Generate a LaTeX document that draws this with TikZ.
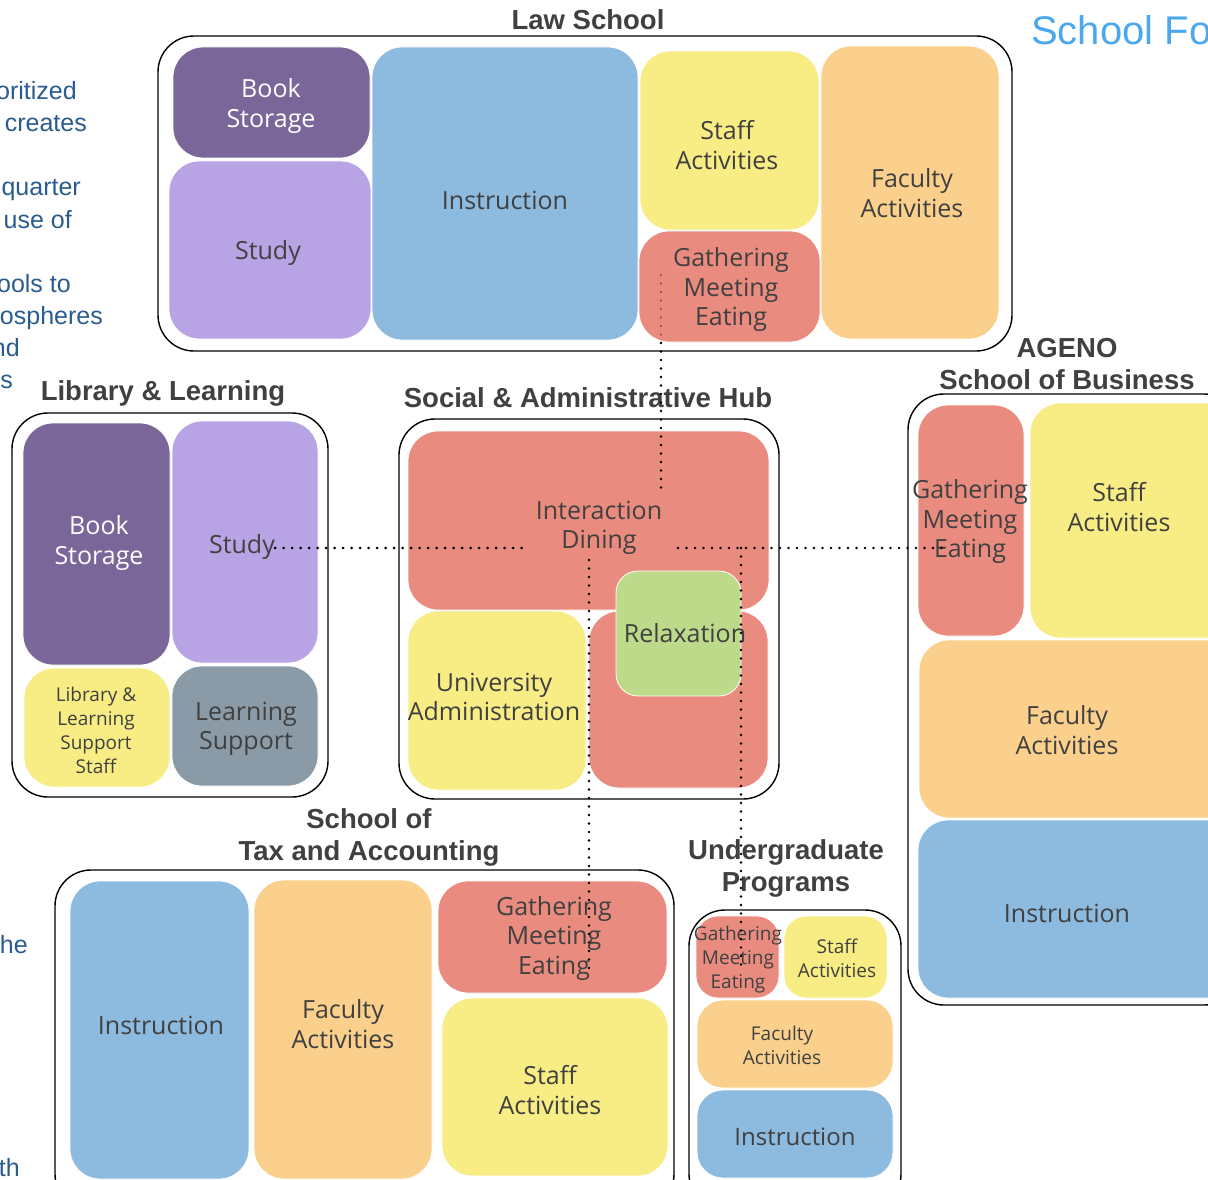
\documentclass[tikz,border=0pt]{standalone}
\usepackage{fontspec}
\setmainfont{Open Sans}
\newfontfamily\titlefont{Liberation Sans}
\definecolor{cDP}{HTML}{7A6699}
\definecolor{cLP}{HTML}{B8A4E4}
\definecolor{cBL}{HTML}{8DBADF}
\definecolor{cYE}{HTML}{F8ED84}
\definecolor{cSA}{HTML}{E98C7F}
\definecolor{cOR}{HTML}{FAD08C}
\definecolor{cGR}{HTML}{BDDA8A}
\definecolor{cGY}{HTML}{8A9BA7}
\definecolor{cTX}{HTML}{404040}
\definecolor{cSIDE}{HTML}{2A5C8F}
\definecolor{cHEAD}{HTML}{4BA8EE}
\tikzset{
  blkbox/.style={rectangle, inner sep=0pt, draw=white, line width=0.8pt},
  container/.style={rectangle, inner sep=0pt, draw=black, line width=1.4pt, rounded corners=36pt},
  lbl/.style={align=center, text=cTX, inner sep=0pt, font=\fontsize{25}{29.5}\selectfont},
  slbl/.style={align=center, text=cTX, inner sep=0pt, font=\fontsize{19}{24}\selectfont},
  wlbl/.style={lbl, text=white},
  ttl/.style={align=center, text=cTX, inner sep=0pt, font=\titlefont\bfseries\fontsize{27.5}{32}\selectfont},
  side/.style={text=cSIDE, inner sep=0pt, font=\titlefont\fontsize{25}{32}\selectfont, anchor=base east},
  dotl/.style={black, line width=2.8pt, line cap=round, dash pattern=on 0pt off 8.5pt}
}
\newcommand{\blk}[7][30pt]{\node[blkbox, fill=#7, rounded corners=#1, minimum width={#5pt-#3pt}, minimum height={#6pt-#4pt}] (#2) at ({(#3+#5)/2},{(#4+#6)/2}) {};}
\newcommand{\cont}[5]{\node[container, minimum width={#4pt-#2pt}, minimum height={#5pt-#3pt}] (#1) at ({(#2+#4)/2},{(#3+#5)/2}) {};}
\begin{document}
\begin{tikzpicture}[x=1pt,y=-1pt]
\useasboundingbox (0,0) rectangle (1208,1180);
\clip (0,0) rectangle (1208,1180);
\fill[white] (0,0) rectangle (1208,1180);

% side texts
\node[side] (s1) at (77,100) {oritized};
\node[side] (s2) at (87,132) {creates};
\node[side] (s3) at (81,196) {quarter};
\node[side] (s4) at (72,228) {use of};
\node[side] (s5) at (71,292) {ools to};
\node[side] (s6) at (103,324) {ospheres};
\node[side] (s7) at (20,356) {nd};
\node[side] (s8) at (13,388) {s};
\node[side] (s9) at (28,953) {he};
\node[side] (s10) at (20,1176) {th};
\node[text=cHEAD, inner sep=0pt, font=\titlefont\fontsize{40}{44}\selectfont, anchor=base west] (head) at (1031,45) {School Fo};

% containers
\cont{cLaw}{158}{36}{1012}{351}
\cont{cLib}{12}{413}{328}{797}
\cont{cHub}{399}{419}{779}{799}
\cont{cAg}{908}{394}{1240}{1005}
\cont{cTax}{55}{870}{674}{1210}
\cont{cUg}{689}{910}{901}{1210}

% titles
\node[ttl] (tLaw) at (588,20) {Law School};
\node[ttl] (tLib) at (163,393) {Library \& Learning};
\node[ttl] (tHub) at (588,398) {Social \& Administrative Hub};
\node[ttl] (tAg) at (1067,364) {AGENO\\School of Business};
\node[ttl] (tTax) at (369,837) {School of\\Tax and Accounting};
\node[ttl] (tUg) at (786,868) {Undergraduate\\Programs};

% law school blocks
\blk{lawBook}{173}{47}{370}{158}{cDP}
\blk{lawStudy}{169}{161}{371}{339}{cLP}
\blk{lawInstr}{372}{47}{638}{340}{cBL}
\blk{lawStaff}{640}{51}{819}{230}{cYE}
\blk{lawGME}{639}{231}{820}{342}{cSA}
\blk{lawFac}{821}{46}{999}{339}{cOR}
% library
\blk{libBook}{23}{423}{170}{665}{cDP}
\blk{libStudy}{172}{421}{318}{663}{cLP}
\blk{libStaff}{24}{668}{170}{787}{cYE}
\blk{libLS}{172}{666}{318}{786}{cGY}
% hub
\blk{hubID}{408}{431}{769}{610}{cSA}
\blk{hubUA}{408}{611}{586}{790}{cYE}
\blk{hubLR}{589}{611}{768}{788}{cSA}
\blk[22pt]{hubRel}{616}{571}{741}{696}{cGR}
% ageno
\blk{agGME}{918}{405}{1024}{636}{cSA}
\blk{agStaff}{1030}{403}{1240}{638}{cYE}
\blk{agFac}{919}{640}{1240}{818}{cOR}
\blk{agInstr}{918}{820}{1240}{998}{cBL}
% tax
\blk{taxInstr}{70}{881}{249}{1179}{cBL}
\blk{taxFac}{254}{880}{432}{1179}{cOR}
\blk{taxGME}{438}{881}{667}{993}{cSA}
\blk{taxStaff}{442}{998}{668}{1176}{cYE}
% undergrad
\blk[22pt]{ugGME}{696}{916}{779}{998}{cSA}
\blk[22pt]{ugStaff}{784}{916}{887}{998}{cYE}
\blk[26pt]{ugFac}{697}{1000}{893}{1088}{cOR}
\blk[26pt]{ugInstr}{697}{1090}{893}{1178}{cBL}

% labels
\node[wlbl] (lLawBook) at (271,106) {Book\\Storage};
\node[lbl] (lLawStudy) at (268,253) {Study};
\node[lbl] (lLawInstr) at (505,200) {Instruction};
\node[lbl] (lLawStaff) at (727,145) {Staff\\Activities};
\node[lbl] (lLawGME) at (731,290) {Gathering\\Meeting\\Eating};
\node[lbl] (lLawFac) at (912,193) {Faculty\\Activities};

\node[wlbl] (lLibBook) at (99,543) {Book\\Storage};
\node[lbl] (lLibStudy) at (242,547) {Study};
\node[slbl] (lLibStaff) at (96,730) {Library \&\\Learning\\Support\\Staff};
\node[lbl] (lLibLS) at (246,729) {Learning\\Support};

\node[lbl] (lHubID) at (599,528) {Interaction\\Dining};
\node[lbl] (lHubUA) at (494,697) {University\\Administration};
\node[lbl] (lHubRel) at (685,633) {Relaxation};

\node[lbl] (lAgGME) at (970,522) {Gathering\\Meeting\\Eating};
\node[lbl] (lAgStaff) at (1119,507) {Staff\\Activities};
\node[lbl] (lAgFac) at (1067,730) {Faculty\\Activities};
\node[lbl] (lAgInstr) at (1067,913) {Instruction};

\node[lbl] (lTaxInstr) at (161,1025) {Instruction};
\node[lbl] (lTaxFac) at (343,1024) {Faculty\\Activities};
\node[lbl] (lTaxGME) at (554,938) {Gathering\\Meeting\\Eating};
\node[lbl] (lTaxStaff) at (550,1090) {Staff\\Activities};

\node[slbl] (lUgGME) at (738,960) {Gathering\\Meeting\\Eating};
\node[slbl] (lUgStaff) at (837,958) {Staff\\Activities};
\node[slbl] (lUgFac) at (782,1045) {Faculty\\Activities};
\node[lbl, font=\fontsize{24}{28}\selectfont] (lUgInstr) at (795,1137) {Instruction};

% dotted connectors
\coordinate (dLawA) at (661,275);
\coordinate (dLawM) at (661,343);
\coordinate (dLawB) at (661,492);
\coordinate (dLeft) at (527,548);
\coordinate (dRightA) at (678,548);
\coordinate (dRightB) at (945,548);
\coordinate (dTaxA) at (589,560);
\coordinate (dTaxB) at (589,975);
\coordinate (dUgA) at (741,548);
\coordinate (dUgB) at (741,968);
\draw[dotl, draw=cSA!55!black, line width=2.2pt] (dLawA) -- (dLawM);
\draw[dotl] (dLawM) -- (dLawB);
\draw[dotl] (lLibStudy.east |- dLeft) -- (dLeft);
\draw[dotl] (dRightA) -- (dRightB);
\draw[dotl] (dTaxA) -- (dTaxB);
\draw[dotl] (dUgA) -- (dUgB);
\end{tikzpicture}
\end{document}
